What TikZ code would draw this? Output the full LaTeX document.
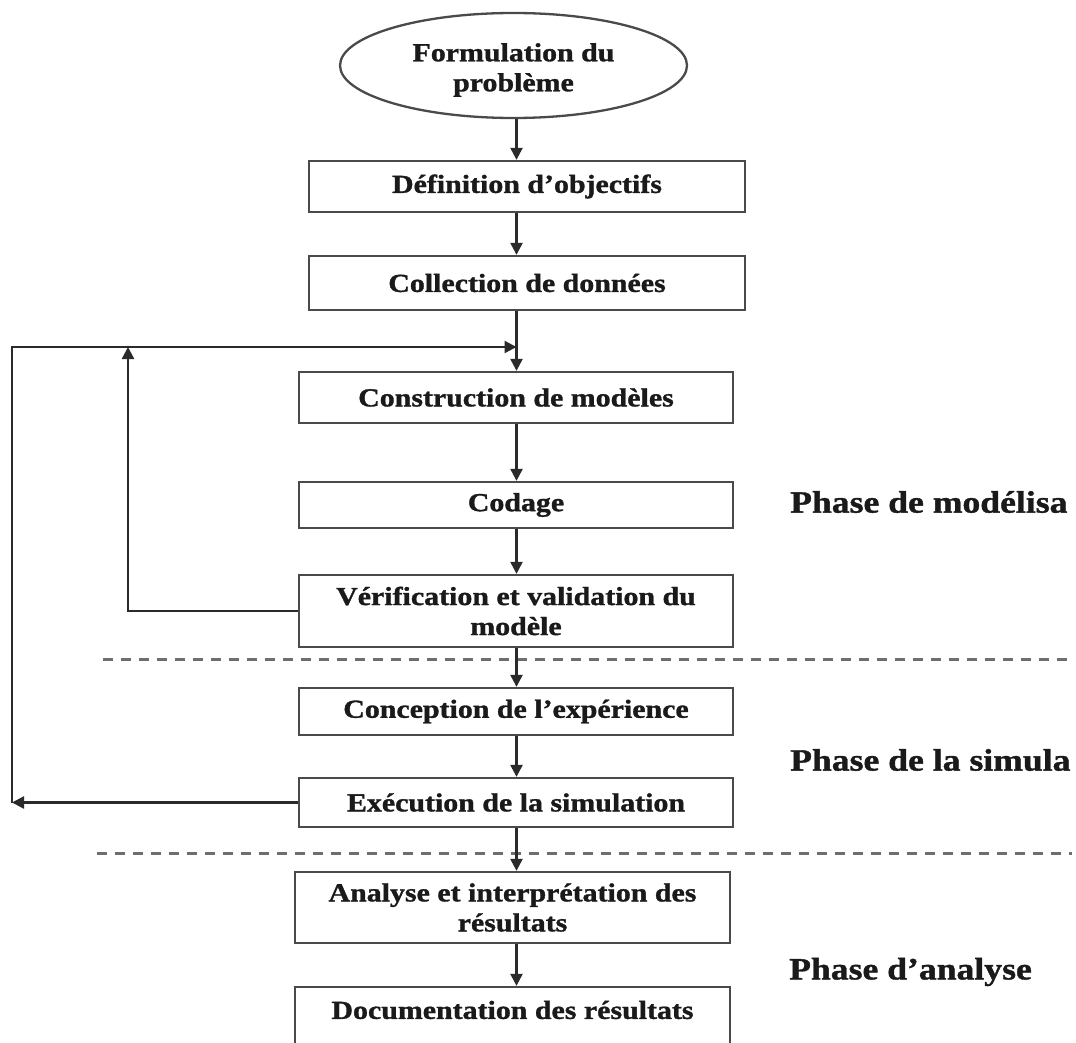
\documentclass[tikz,border=0pt]{standalone}
\usepackage{fontspec}
\newfontfamily\diagfont{Liberation Serif}[FakeStretch=1.15, BoldFeatures={FakeBold=1.2}]
\usetikzlibrary{arrows.meta,shapes.geometric}
\definecolor{inkc}{HTML}{1A1A1A}
\definecolor{framec}{HTML}{4A4A4A}
\definecolor{linkc}{HTML}{2A2A2A}
\definecolor{dashc}{HTML}{6E6E6E}
\newcommand\dgboxfont{\diagfont\bfseries\fontsize{26}{30}\selectfont}
\newcommand\dgphasefont{\diagfont\bfseries\fontsize{31}{34}\selectfont}
\begin{document}
\begin{tikzpicture}[x=1pt,y=-1pt,
  stepbox/.style={draw=framec, line width=2.3pt, fill=white, rectangle,
    minimum width=434pt, inner sep=0pt, align=center, text=inkc, font=\dgboxfont},
  startnode/.style={draw=framec, line width=2.3pt, fill=white, ellipse,
    minimum width=347pt, minimum height=105pt, inner sep=0pt, align=center,
    text=inkc, font=\dgboxfont},
  conn/.style={draw=linkc, line width=2.3pt, -{Triangle[length=12pt,width=12pt]}},
  separator/.style={draw=dashc, line width=3pt, dash pattern=on 10pt off 8pt},
  phaselabel/.style={anchor=west, inner sep=0pt, text=inkc, font=\dgphasefont}
]
\useasboundingbox (0,0) rectangle (1076,1043);
\clip (0,0) rectangle (1076,1043);
\fill[white] (0,0) rectangle (1076,1043);

% main column of the flowchart
\coordinate (spine) at (516.5,0);

\node[startnode] (ell) at (513.5,65.5) {};
\node[inner sep=0pt, align=center, text=inkc, font=\dgboxfont] (elltext) at (513.5,70) {Formulation du\\problème};
\node[stepbox, minimum width=436pt, minimum height=51pt] (def) at (527,186.5) {Définition d’objectifs};
\node[stepbox, minimum width=436pt, minimum height=54pt] (coll) at (527,283) {Collection de données};
\node[stepbox, minimum height=51pt] (constr) at (516,397.5) {Construction de modèles};
\node[stepbox, minimum height=46pt] (codage) at (516,505) {Codage};
\node[stepbox, minimum height=72pt] (verif) at (516,611) {Vérification et validation du\\modèle};
\node[stepbox, minimum height=47pt] (concep) at (516,711.5) {Conception de l’expérience};
\node[stepbox, minimum height=49pt] (exec) at (516,802.5) {Exécution de la simulation};
\node[stepbox, minimum width=435pt, minimum height=71pt] (anal) at (512.5,907.5) {Analyse et interprétation des\\résultats};
\node[stepbox, minimum width=435pt, minimum height=70pt] (doc) at (512.5,1022) {};
\node[inner sep=0pt, text=inkc, font=\dgboxfont] (doctext) at (512.5,1010) {Documentation des résultats};

% phase separators
\draw[separator] (103,659) -- (1072,659);
\draw[separator] (97,853) -- (1072,853);

% phase labels
\node[phaselabel] (ph1) at (790,502) {Phase de modélisa};
\node[phaselabel] (ph2) at (790,760) {Phase de la simula};
\node[phaselabel] (ph3) at (789,972) {Phase d’analyse};

% forward flow
\coordinate (join) at (516.5,347);
\draw[conn] (ell.south -| spine) -- (def.north -| spine);
\draw[conn] (def.south -| spine) -- (coll.north -| spine);
\draw[conn] (coll.south -| spine) -- (constr.north -| spine);
\draw[conn] (constr.south -| spine) -- (codage.north -| spine);
\draw[conn] (codage.south -| spine) -- (verif.north -| spine);
\draw[conn] (verif.south -| spine) -- (concep.north -| spine);
\draw[conn] (concep.south -| spine) -- (exec.north -| spine);
\draw[conn] (exec.south -| spine) -- (anal.north -| spine);
\draw[conn] (anal.south -| spine) -- (doc.north -| spine);

% feedback loops
\coordinate (innertop) at (128,347);
\coordinate (outerlow) at (12,802.5);
\draw[conn] (verif.west) -| (innertop);
\draw[conn] (exec.west) -- (outerlow);
\draw[conn] (outerlow) |- (join);
\end{tikzpicture}
\end{document}
